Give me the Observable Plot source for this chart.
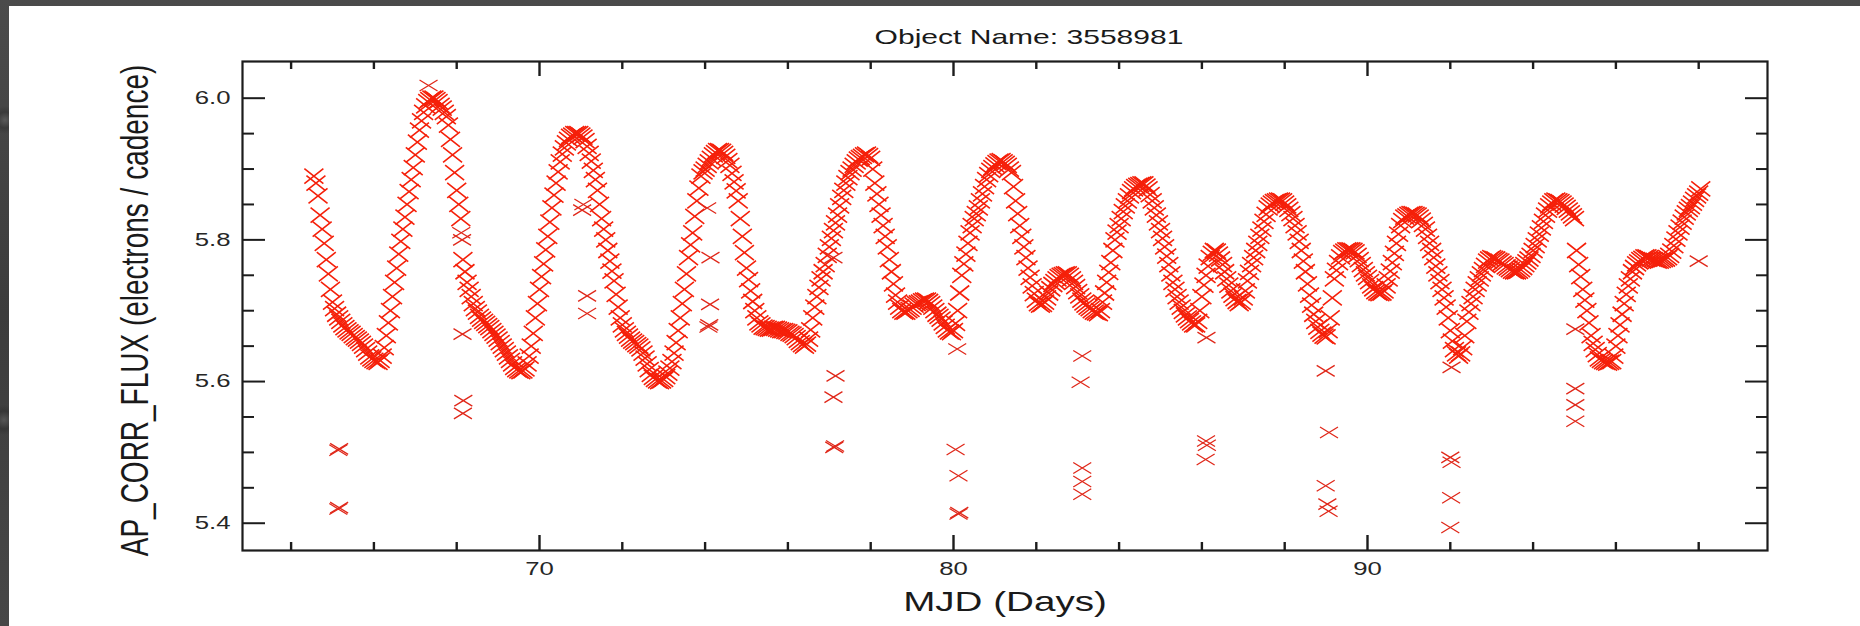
<!DOCTYPE html>
<html>
<head>
<meta charset="utf-8">
<script src="https://cdn.jsdelivr.net/npm/d3@7"></script>
<script src="https://cdn.jsdelivr.net/npm/@observablehq/plot@0.6"></script>
<style>
  html, body { margin: 0; padding: 0; }
  body {
    width: 1860px; height: 626px; overflow: hidden; position: relative;
    background: #444;
    background-image:
      radial-gradient(circle at 5px 120px, #5a5a5a 0, #3a3a3a 8px, transparent 14px),
      radial-gradient(circle at 4px 420px, #565656 0, #363636 9px, transparent 15px),
      linear-gradient(180deg, #4b4b4b 0%, #3c3c3c 50%, #474747 100%);
  }
  #panel { position: absolute; left: 9px; top: 6px; width: 1851px; height: 620px; background: #fff; }
  #panel svg { display: block; }
</style>
</head>
<body>
<div id="panel"></div>
<script>
// ---- Data ----
const title = "Object Name: 3558981";
const xLabel = "MJD (Days)";
const yLabel = "AP_CORR_FLUX (electrons / cadence)";

const xMajorTicks = [70, 80, 90];
const xMinorTicks = [64, 66, 68, 72, 74, 76, 78, 82, 84, 86, 88, 92, 94, 96, 98];
const yMajorTicks = [5.4, 5.6, 5.8, 6.0];
const yMinorTicks = [5.45, 5.5, 5.55, 5.65, 5.7, 5.75, 5.85, 5.9, 5.95];

// light curve, one reading every 0.05 day starting at MJD 64.55
const cadenceStart = 64.55;
const cadenceStep = 0.05;
const flux = [
  // 64.55 - 65.00
  5.890, 5.880, 5.862, 5.835, 5.815, 5.795, 5.772, 5.752, 5.730, 5.712,
  // 65.05 - 66.00
  5.703, 5.695, 5.690, 5.685, 5.680, 5.676, 5.673, 5.670, 5.668, 5.665, 5.662, 5.660, 5.657, 5.654, 5.650, 5.645, 5.640, 5.635, 5.632, 5.630,
  // 66.05 - 67.00
  5.628, 5.627, 5.630, 5.636, 5.648, 5.665, 5.683, 5.700, 5.720, 5.740, 5.760, 5.780, 5.798, 5.815, 5.832, 5.850, 5.868, 5.885, 5.902, 5.920,
  // 67.05 - 68.00
  5.938, 5.955, 5.968, 5.980, 5.989, 5.995, 5.998, 6.000, 6.000, 5.998, 5.995, 5.990, 5.986, 5.980, 5.974, 5.962, 5.942, 5.920, 5.895, 5.870,
  // 68.05 - 69.00
  5.850, 5.830, 5.772, 5.755, 5.740, 5.730, 5.720, 5.710, 5.703, 5.698, 5.692, 5.688, 5.685, 5.682, 5.679, 5.676, 5.672, 5.668, 5.664, 5.660,
  // 69.05 - 70.00
  5.655, 5.650, 5.645, 5.640, 5.635, 5.630, 5.625, 5.620, 5.617, 5.615, 5.614, 5.615, 5.618, 5.625, 5.636, 5.650, 5.668, 5.690, 5.710, 5.730,
  // 70.05 - 71.00
  5.748, 5.766, 5.786, 5.805, 5.825, 5.845, 5.863, 5.880, 5.896, 5.910, 5.921, 5.930, 5.937, 5.942, 5.946, 5.948, 5.950, 5.950, 5.950, 5.948,
  // 71.05 - 72.00
  5.945, 5.940, 5.932, 5.922, 5.911, 5.898, 5.885, 5.870, 5.850, 5.830, 5.815, 5.800, 5.785, 5.770, 5.756, 5.742, 5.723, 5.705, 5.690, 5.680,
  // 72.05 - 73.00
  5.673, 5.668, 5.664, 5.660, 5.657, 5.655, 5.652, 5.650, 5.646, 5.640, 5.633, 5.625, 5.617, 5.610, 5.606, 5.603, 5.601, 5.600, 5.601, 5.603,
  // 73.05 - 74.00
  5.607, 5.612, 5.619, 5.628, 5.640, 5.655, 5.672, 5.690, 5.710, 5.730, 5.752, 5.775, 5.793, 5.810, 5.833, 5.855, 5.873, 5.890, 5.896, 5.900,
  // 74.05 - 75.00
  5.905, 5.910, 5.915, 5.920, 5.923, 5.926, 5.926, 5.925, 5.922, 5.918, 5.912, 5.905, 5.894, 5.882, 5.869, 5.855, 5.830, 5.805, 5.782, 5.760,
  // 75.05 - 76.00
  5.744, 5.728, 5.713, 5.700, 5.690, 5.683, 5.680, 5.677, 5.676, 5.675, 5.674, 5.674, 5.675, 5.675, 5.674, 5.673, 5.672, 5.672, 5.671, 5.670,
  // 76.05 - 77.00
  5.668, 5.667, 5.665, 5.662, 5.658, 5.655, 5.652, 5.650, 5.653, 5.660, 5.673, 5.690, 5.705, 5.720, 5.733, 5.745, 5.755, 5.765, 5.778, 5.790,
  // 77.05 - 78.00
  5.802, 5.813, 5.824, 5.835, 5.848, 5.860, 5.870, 5.880, 5.888, 5.895, 5.900, 5.905, 5.910, 5.914, 5.916, 5.918, 5.920, 5.921, 5.919, 5.915,
  // 78.05 - 79.00
  5.900, 5.880, 5.865, 5.850, 5.835, 5.820, 5.805, 5.790, 5.772, 5.755, 5.738, 5.722, 5.712, 5.705, 5.700, 5.698, 5.698, 5.700, 5.702, 5.705,
  // 79.05 - 80.00
  5.708, 5.710, 5.711, 5.712, 5.714, 5.715, 5.715, 5.713, 5.710, 5.705, 5.700, 5.695, 5.692, 5.688, 5.683, 5.678, 5.673, 5.670, 5.669, 5.672,
  // 80.05 - 81.00
  5.682, 5.700, 5.725, 5.750, 5.766, 5.780, 5.795, 5.810, 5.820, 5.830, 5.837, 5.845, 5.855, 5.865, 5.875, 5.885, 5.892, 5.898, 5.902, 5.906,
  // 81.05 - 82.00
  5.909, 5.911, 5.912, 5.910, 5.908, 5.905, 5.900, 5.895, 5.875, 5.855, 5.837, 5.820, 5.805, 5.790, 5.775, 5.760, 5.747, 5.735, 5.724, 5.715,
  // 82.05 - 83.00
  5.710, 5.708, 5.709, 5.712, 5.718, 5.725, 5.731, 5.737, 5.741, 5.745, 5.748, 5.750, 5.751, 5.752, 5.752, 5.750, 5.745, 5.740, 5.734, 5.727,
  // 83.05 - 84.00
  5.721, 5.715, 5.711, 5.708, 5.705, 5.703, 5.700, 5.698, 5.697, 5.696, 5.700, 5.712, 5.725, 5.740, 5.754, 5.768, 5.785, 5.800, 5.811, 5.820,
  // 84.05 - 85.00
  5.830, 5.840, 5.848, 5.855, 5.862, 5.868, 5.872, 5.875, 5.877, 5.878, 5.879, 5.879, 5.876, 5.872, 5.864, 5.855, 5.845, 5.835, 5.824, 5.813,
  // 85.05 - 86.00
  5.802, 5.790, 5.777, 5.765, 5.752, 5.740, 5.730, 5.720, 5.712, 5.705, 5.699, 5.694, 5.690, 5.686, 5.683, 5.680, 5.680, 5.685, 5.700, 5.720,
  // 86.05 - 87.00
  5.736, 5.750, 5.763, 5.775, 5.781, 5.785, 5.784, 5.780, 5.773, 5.765, 5.755, 5.745, 5.736, 5.728, 5.722, 5.717, 5.713, 5.710, 5.712, 5.718,
  // 87.05 - 88.00
  5.728, 5.742, 5.754, 5.765, 5.775, 5.785, 5.795, 5.805, 5.815, 5.826, 5.836, 5.845, 5.849, 5.852, 5.854, 5.855, 5.856, 5.856, 5.855, 5.852,
  // 88.05 - 89.00
  5.848, 5.843, 5.837, 5.830, 5.820, 5.810, 5.798, 5.785, 5.770, 5.755, 5.738, 5.722, 5.708, 5.695, 5.685, 5.677, 5.671, 5.667, 5.664, 5.663,
  // 89.05 - 90.00
  5.672, 5.690, 5.718, 5.745, 5.757, 5.768, 5.776, 5.782, 5.784, 5.786, 5.786, 5.786, 5.785, 5.783, 5.778, 5.772, 5.765, 5.758, 5.752, 5.747,
  // 90.05 - 91.00
  5.741, 5.735, 5.731, 5.727, 5.725, 5.724, 5.725, 5.728, 5.735, 5.745, 5.756, 5.768, 5.781, 5.795, 5.808, 5.820, 5.827, 5.832, 5.834, 5.836,
  // 91.05 - 92.00
  5.837, 5.837, 5.836, 5.835, 5.832, 5.828, 5.822, 5.815, 5.805, 5.795, 5.785, 5.775, 5.763, 5.752, 5.741, 5.730, 5.718, 5.705, 5.690, 5.672,
  // 92.05 - 93.00
  5.657, 5.645, 5.639, 5.636, 5.639, 5.648, 5.665, 5.685, 5.698, 5.710, 5.720, 5.730, 5.738, 5.745, 5.752, 5.758, 5.764, 5.770, 5.773, 5.775,
  // 93.05 - 94.00
  5.774, 5.773, 5.771, 5.770, 5.767, 5.765, 5.762, 5.760, 5.758, 5.756, 5.755, 5.755, 5.756, 5.758, 5.761, 5.765, 5.769, 5.773, 5.778, 5.785,
  // 94.05 - 95.00
  5.792, 5.800, 5.808, 5.817, 5.826, 5.835, 5.842, 5.848, 5.852, 5.855, 5.856, 5.855, 5.854, 5.852, 5.849, 5.846, 5.842, 5.838, 5.834, 5.830,
  // 95.05 - 96.00
  5.785, 5.765, 5.748, 5.730, 5.715, 5.700, 5.683, 5.665, 5.654, 5.645, 5.638, 5.632, 5.630, 5.628, 5.627, 5.626, 5.627, 5.628, 5.636, 5.650,
  // 96.05 - 97.00
  5.665, 5.680, 5.695, 5.710, 5.723, 5.735, 5.745, 5.755, 5.761, 5.766, 5.769, 5.772, 5.774, 5.776, 5.776, 5.775, 5.773, 5.772, 5.771, 5.770,
  // 97.05 - 98.00
  5.770, 5.771, 5.772, 5.773, 5.775, 5.778, 5.784, 5.792, 5.801, 5.810, 5.818, 5.825, 5.832, 5.838, 5.843, 5.847, 5.852, 5.857, 5.862, 5.866,
  // 98.05
  5.872
];

// isolated points (momentum-dump outliers and strays)
const outlierDays = [
  65.14, 65.16, 65.14, 65.16,
  67.32,
  68.14, 68.16, 68.15, 68.11, 68.13,
  71.03, 71.06, 71.15, 71.15,
  74.05, 74.13, 74.12, 74.08, 74.10,
  77.10, 77.15, 77.10, 77.12, 77.14,
  80.09, 80.05, 80.12, 80.12, 80.14,
  83.11, 83.07, 83.11, 83.11, 83.11,
  86.11, 86.10, 86.12, 86.09,
  88.99, 89.07, 88.99, 89.03, 89.06,
  92.03, 92.00, 92.03, 92.02, 92.00,
  95.02, 95.02, 95.02, 95.02,
  98.00
];
const outlierFlux = [
  5.503, 5.505, 5.420, 5.422,
  6.018,
  5.667, 5.573, 5.555, 5.810, 5.800,
  5.842, 5.850, 5.721, 5.696,
  5.845, 5.775, 5.709, 5.677, 5.680,
  5.775, 5.608, 5.578, 5.507, 5.509,
  5.646, 5.504, 5.467, 5.413, 5.415,
  5.636, 5.599, 5.478, 5.459, 5.441,
  5.662, 5.516, 5.510, 5.490,
  5.615, 5.528, 5.453, 5.427, 5.417,
  5.620, 5.493, 5.486, 5.436, 5.394,
  5.674, 5.590, 5.567, 5.544,
  5.770
];

// ---- Build tables ----
const curve = flux.map((f, i) => ({day: +(cadenceStart + i * cadenceStep).toFixed(2), flux: f}));
const outliers = outlierDays.map((d, i) => ({day: d, flux: outlierFlux[i]}));

// ---- Layout / style ----
const W = 1851, H = 620;
const mL = 233, mR = 93, mT = 55, mB = 76;
const innerW = W - mL - mR, innerH = H - mT - mB;
const red = "#f5200a";
const outlierRed = "#e0281a";
const ink = "#1c1c1c";
const font = "Liberation Sans, Arial, Helvetica, sans-serif";

// wide "x" markers (the source image is stretched horizontally)
function cross(hw, hh) {
  return {
    draw(context) {
      context.moveTo(-hw, -hh); context.lineTo(hw, hh);
      context.moveTo(-hw, hh); context.lineTo(hw, -hh);
    }
  };
}

const chart = Plot.plot({
  width: W, height: H,
  marginLeft: mL, marginRight: mR, marginTop: mT, marginBottom: mB,
  style: {background: "#fff", fontFamily: font, color: ink},
  x: {domain: [62.826, 99.662], axis: null},
  y: {domain: [5.3615, 6.0518], axis: null},
  marks: [
    Plot.dot(curve, {x: "day", y: "flux", symbol: cross(9.5, 7.5), stroke: red, fill: "none", strokeWidth: 1.6}),
    Plot.dot(outliers, {x: "day", y: "flux", symbol: cross(9, 5.5), stroke: outlierRed, fill: "none", strokeWidth: 1.3}),
    // inward ticks, left and right
    Plot.ruleY(yMajorTicks, {y: d => d, insetRight: innerW - 23, stroke: ink, strokeWidth: 2}),
    Plot.ruleY(yMinorTicks, {y: d => d, insetRight: innerW - 12, stroke: ink, strokeWidth: 2}),
    Plot.ruleY(yMajorTicks, {y: d => d, insetLeft: innerW - 22, stroke: ink, strokeWidth: 2}),
    Plot.ruleY(yMinorTicks, {y: d => d, insetLeft: innerW - 11, stroke: ink, strokeWidth: 2}),
    // inward ticks, bottom and top
    Plot.ruleX(xMajorTicks, {x: d => d, insetTop: innerH - 15, stroke: ink, strokeWidth: 2.4}),
    Plot.ruleX(xMinorTicks, {x: d => d, insetTop: innerH - 8, stroke: ink, strokeWidth: 2.4}),
    Plot.ruleX(xMajorTicks, {x: d => d, insetBottom: innerH - 15, stroke: ink, strokeWidth: 2.4}),
    Plot.ruleX(xMinorTicks, {x: d => d, insetBottom: innerH - 8, stroke: ink, strokeWidth: 2.4}),
    Plot.frame({stroke: ink, strokeWidth: 2.2}),
    // tick labels
    Plot.text(yMajorTicks, {y: d => d, text: d => d.toFixed(1), frameAnchor: "left", textAnchor: "end", lineAnchor: "middle", dx: -12, fontSize: 18, fill: "#262626"}),
    Plot.text(xMajorTicks, {x: d => d, text: d => String(d), frameAnchor: "bottom", lineAnchor: "middle", dy: 18.5, fontSize: 18, fill: "#262626"}),
    // titles
    Plot.text([title], {text: d => d, frameAnchor: "top", textAnchor: "middle", lineAnchor: "middle", dx: 24, dy: -24.5, fontSize: 21, fill: "#1a1a1a"}),
    Plot.text([xLabel], {text: d => d, frameAnchor: "bottom", textAnchor: "middle", lineAnchor: "middle", dy: 52, fontSize: 27, fill: "#1a1a1a"}),
    Plot.text([yLabel], {text: d => d, frameAnchor: "left", textAnchor: "middle", rotate: -90, lineAnchor: "middle", dx: -107.5, dy: 4.5, fontSize: 28, fill: "#1a1a1a"})
  ]
});

// the reference was horizontally stretched: widen the glyphs around their anchors
chart.querySelectorAll("text").forEach(t => {
  const tr = t.getAttribute("transform");
  if (!tr) return;
  t.setAttribute("transform", tr + (tr.includes("rotate(") ? " scale(1,1.4)" : " scale(1.43,1)"));
});

document.getElementById("panel").appendChild(chart);
</script>
</body>
</html>
